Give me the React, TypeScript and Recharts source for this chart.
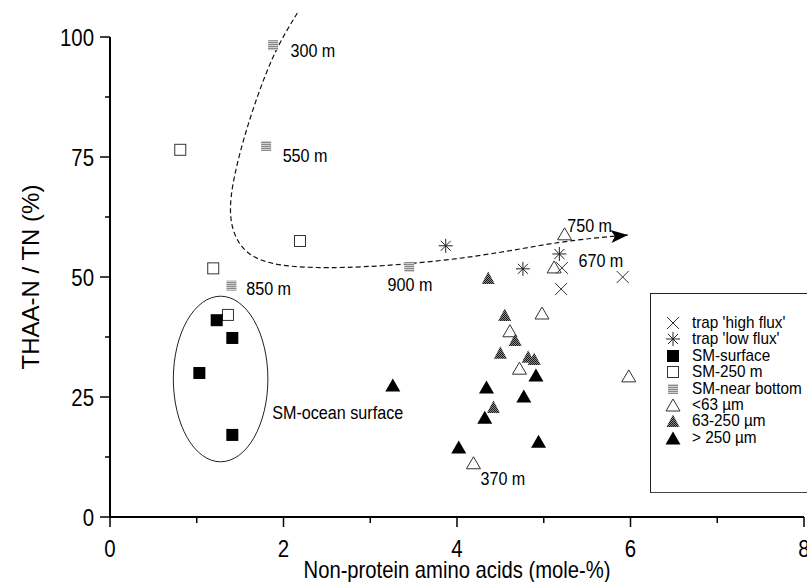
import React from 'react';
import { ScatterChart, Scatter, XAxis, YAxis, ReferenceLine, ReferenceArea } from 'recharts';

// axis ticks (odd entries are the unlabelled minor ticks)
const xTicks = [0, 1, 2, 3, 4, 5, 6, 7, 8];
const yTicks = [0, 12.5, 25, 37.5, 50, 62.5, 75, 87.5, 100];

// sediment trap samples
const trapHighFlux = [
  { x: 5.21, y: 51.9 },
  { x: 5.2, y: 47.5 },
  { x: 5.91, y: 50.0 },
];
const trapLowFlux = [
  { x: 3.87, y: 56.5 },
  { x: 4.76, y: 51.7 },
  { x: 5.18, y: 54.8 },
];

// suspended matter
const smSurface = [
  { x: 1.23, y: 41.0 },
  { x: 1.41, y: 37.3 },
  { x: 1.03, y: 30.0 },
  { x: 1.41, y: 17.1 },
];
const sm250 = [
  { x: 0.81, y: 76.5 },
  { x: 2.19, y: 57.5 },
  { x: 1.19, y: 51.8 },
  { x: 1.36, y: 42.1 },
];
const smNearBottom = [
  { x: 1.88, y: 98.3 },
  { x: 1.8, y: 77.3 },
  { x: 1.4, y: 48.2 },
  { x: 3.45, y: 52.1 },
];

// size fractions
const fine = [
  { x: 5.24, y: 59.0 },
  { x: 5.12, y: 52.1 },
  { x: 4.98, y: 42.5 },
  { x: 4.61, y: 38.8 },
  { x: 4.72, y: 31.0 },
  { x: 5.98, y: 29.4 },
  { x: 4.19, y: 11.3 },
];
const medium = [
  { x: 4.36, y: 49.8 },
  { x: 4.55, y: 42.1 },
  { x: 4.67, y: 36.9 },
  { x: 4.5, y: 34.2 },
  { x: 4.82, y: 33.4 },
  { x: 4.89, y: 32.9 },
  { x: 4.42, y: 22.9 },
];
const coarse = [
  { x: 3.26, y: 27.5 },
  { x: 4.34, y: 27.1 },
  { x: 4.91, y: 29.6 },
  { x: 4.77, y: 25.2 },
  { x: 4.32, y: 20.8 },
  { x: 4.02, y: 14.6 },
  { x: 4.94, y: 15.8 },
];

// dashed trend arrow (down the water column, then towards the traps)
const trendPath = [
  { x: 2.16, y: 105 },
  { x: 1.9, y: 97.3 },
  { x: 1.68, y: 86.9 },
  { x: 1.5, y: 76.5 },
  { x: 1.37, y: 66.0 },
  { x: 1.4, y: 59.5 },
  { x: 1.56, y: 54.8 },
  { x: 1.85, y: 52.6 },
  { x: 2.3, y: 51.8 },
  { x: 3.12, y: 52.1 },
  { x: 4.27, y: 54.2 },
  { x: 5.19, y: 57.5 },
  { x: 5.97, y: 58.75, head: true },
];

// depth annotations
const depthLabels = [
  { x: 2.08, y: 97.3, text: '300 m' },
  { x: 1.99, y: 75.4, text: '550 m' },
  { x: 1.57, y: 47.7, text: '850 m' },
  { x: 3.2, y: 48.5, text: '900 m' },
  { x: 5.27, y: 60.8, text: '750 m' },
  { x: 5.4, y: 53.5, text: '670 m' },
  { x: 4.27, y: 8.1, text: '370 m' },
  { x: 1.87, y: 21.9, text: 'SM-ocean surface' },
];

// outline around the surface samples
const surfaceGroup = { x1: 0.73, x2: 1.82, y1: 11.5, y2: 46.0 };

const SANS = "'Liberation Sans', Arial, Helvetica, sans-serif";

// horizontally condensed svg text
const Condensed = ({ x, y, size, sx, anchor = 'start', children }: any) => (
  <text
    transform={`translate(${x},${y}) scale(${sx},1)`}
    textAnchor={anchor}
    fontFamily={SANS}
    fontSize={size}
    fill="#000"
  >
    {children}
  </text>
);

const drawCross = (cx: number, cy: number) => (
  <path
    d={`M${cx - 6},${cy - 6}L${cx + 6},${cy + 6}M${cx - 6},${cy + 6}L${cx + 6},${cy - 6}`}
    stroke="#333"
    strokeWidth={1}
    fill="none"
  />
);
const drawStar = (cx: number, cy: number) => (
  <path
    d={`M${cx},${cy - 7}L${cx},${cy + 7}M${cx - 7},${cy}L${cx + 7},${cy}M${cx - 5},${cy - 5}L${cx + 5},${cy + 5}M${cx - 5},${cy + 5}L${cx + 5},${cy - 5}`}
    stroke="#222"
    strokeWidth={1}
    fill="none"
  />
);
const drawFilledSquare = (cx: number, cy: number) => (
  <rect x={cx - 6} y={cy - 6} width={12} height={12} fill="#000" />
);
const drawOpenSquare = (cx: number, cy: number) => (
  <rect x={cx - 5.5} y={cy - 5.5} width={11} height={11} fill="#fff" stroke="#333" strokeWidth={1} />
);
const drawGreySquare = (cx: number, cy: number) => (
  <rect x={cx - 5} y={cy - 5} width={10} height={10} fill="url(#nearBottomFill)" />
);
const drawOpenTriangle = (cx: number, cy: number) => (
  <path d={`M${cx - 7},${cy + 6}L${cx},${cy - 6}L${cx + 7},${cy + 6}Z`} fill="none" stroke="#333" strokeWidth={1} />
);
const drawGreyTriangle = (cx: number, cy: number) => (
  <path d={`M${cx - 6.5},${cy + 6}L${cx},${cy - 6.5}L${cx + 6.5},${cy + 6}Z`} fill="url(#midFill)" />
);
const drawFilledTriangle = (cx: number, cy: number) => (
  <path d={`M${cx - 7.5},${cy + 6.5}L${cx},${cy - 6.5}L${cx + 7.5},${cy + 6.5}Z`} fill="#000" />
);

const legendItems = [
  { label: "trap 'high flux'", draw: drawCross },
  { label: "trap 'low flux'", draw: drawStar },
  { label: 'SM-surface', draw: drawFilledSquare },
  { label: 'SM-250 m', draw: drawOpenSquare },
  { label: 'SM-near bottom', draw: drawGreySquare },
  { label: '<63 µm', draw: drawOpenTriangle },
  { label: '63-250 µm', draw: drawGreyTriangle },
  { label: '> 250 µm', draw: drawFilledTriangle },
];

const XTick = (props: any) => {
  const { x, y, payload } = props;
  const major = payload.value % 2 === 0;
  return (
    <g>
      <line x1={x} y1={y} x2={x} y2={y + (major ? 10 : 6)} stroke="#000" strokeWidth={1.5} />
      {major && (
        <Condensed x={x} y={y + 40} size={24} sx={0.85} anchor="middle">
          {payload.value}
        </Condensed>
      )}
    </g>
  );
};

const YTick = (props: any) => {
  const { x, y, payload } = props;
  const major = payload.value % 25 === 0;
  return (
    <g>
      <line x1={x} y1={y} x2={x - (major ? 10 : 5)} y2={y} stroke="#000" strokeWidth={1.5} />
      {major && (
        <Condensed x={x - 16} y={y + 8.5} size={24} sx={0.85} anchor="end">
          {payload.value}
        </Condensed>
      )}
    </g>
  );
};

const TrendPoint = (props: any) => {
  const { cx, cy, payload } = props;
  if (!payload.head) return <g />;
  return (
    <path
      d="M0,0L-17,-6.5L-13,0L-17,6.5Z"
      fill="#000"
      transform={`translate(${cx},${cy}) rotate(-5)`}
    />
  );
};

const DepthLabel = (props: any) => {
  const { cx, cy, payload } = props;
  return (
    <Condensed x={cx} y={cy + 7} size={19} sx={0.85}>
      {payload.text}
    </Condensed>
  );
};

const GroupOutline = (props: any) => {
  const { x, y, width, height } = props;
  return (
    <ellipse
      cx={x + width / 2}
      cy={y + height / 2}
      rx={width / 2}
      ry={height / 2}
      fill="none"
      stroke="#222"
      strokeWidth={1}
    />
  );
};

const Legend = () => (
  <div
    style={{
      position: 'absolute',
      left: 650,
      top: 293,
      width: 180,
      height: 198,
      borderTop: '1.5px solid #222',
      borderLeft: '1.5px solid #222',
      borderBottom: '1.5px solid #444',
      background: '#fff',
    }}
  >
    {legendItems.map((item, i) => (
      <div key={item.label} style={{ position: 'absolute', left: 0, top: 21 + i * 16.4, height: 16 }}>
        <svg width={22} height={16} style={{ position: 'absolute', left: 11, top: 0 }}>
          {item.draw(11, 8)}
        </svg>
        <span
          style={{
            position: 'absolute',
            left: 41,
            top: 0,
            lineHeight: '16px',
            fontFamily: SANS,
            fontSize: 17,
            whiteSpace: 'nowrap',
            color: '#000',
            transform: 'scaleX(0.9)',
            transformOrigin: 'left center',
          }}
        >
          {item.label}
        </span>
      </div>
    ))}
  </div>
);

export default function App() {
  return (
    <div
      style={{
        position: 'absolute',
        left: 0,
        top: 0,
        width: 807,
        height: 582,
        overflow: 'hidden',
        background: '#fff',
      }}
    >
      <svg width={0} height={0} style={{ position: 'absolute' }}>
        <defs>
          <pattern id="nearBottomFill" width={2} height={2} patternUnits="userSpaceOnUse">
            <rect width={2} height={2} fill="#cfcfcf" />
            <rect width={2} height={1} fill="#8a8a8a" />
          </pattern>
          <pattern id="midFill" width={2} height={2} patternUnits="userSpaceOnUse">
            <rect width={2} height={2} fill="#8a8a8a" />
            <rect width={1} height={1} fill="#1a1a1a" />
            <rect x={1} y={1} width={1} height={1} fill="#1a1a1a" />
          </pattern>
        </defs>
      </svg>
      <ScatterChart width={807} height={582} margin={{ top: 13, right: 3, bottom: 0, left: 0 }}>
        <XAxis
          type="number"
          dataKey="x"
          domain={[0, 8]}
          ticks={xTicks}
          interval={0}
          tickLine={false}
          tickSize={0}
          tickMargin={0}
          tick={XTick}
          height={65}
          axisLine={{ stroke: '#000', strokeWidth: 2 }}
          label={{
            content: (p: any) => (
              <Condensed
                x={p.viewBox.x + p.viewBox.width / 2}
                y={p.viewBox.y + 61}
                size={23}
                sx={0.88}
                anchor="middle"
              >
                Non-protein amino acids (mole-%)
              </Condensed>
            ),
          }}
        />
        <YAxis
          type="number"
          dataKey="y"
          domain={[0, 105]}
          ticks={yTicks}
          interval={0}
          axisLine={false}
          tickLine={false}
          tickSize={0}
          tickMargin={0}
          tick={YTick}
          width={110}
          label={{
            content: (p: any) => {
              const cx = p.viewBox.x + 30;
              const cy = p.viewBox.y + p.viewBox.height / 2 + 12;
              return (
                <text
                  x={cx}
                  y={cy}
                  textAnchor="middle"
                  dominantBaseline="central"
                  transform={`rotate(-90, ${cx}, ${cy})`}
                  fontFamily={SANS}
                  fontSize={24}
                  fill="#000"
                >
                  THAA-N / TN (%)
                </text>
              );
            },
          }}
        />
        <ReferenceLine
          segment={[
            { x: 0, y: 0 },
            { x: 0, y: 100 },
          ]}
          stroke="#000"
          strokeWidth={2}
          ifOverflow="visible"
        />
        <ReferenceArea {...surfaceGroup} shape={GroupOutline} ifOverflow="visible" />
        <Scatter
          data={trendPath}
          line={{ stroke: '#111', strokeWidth: 1.2, strokeDasharray: '5 3', fill: 'none' }}
          lineJointType="basis"
          shape={TrendPoint}
          isAnimationActive={false}
        />
        <Scatter data={sm250} shape={(p: any) => drawOpenSquare(p.cx, p.cy)} isAnimationActive={false} />
        <Scatter data={smSurface} shape={(p: any) => drawFilledSquare(p.cx, p.cy)} isAnimationActive={false} />
        <Scatter data={smNearBottom} shape={(p: any) => drawGreySquare(p.cx, p.cy)} isAnimationActive={false} />
        <Scatter data={fine} shape={(p: any) => drawOpenTriangle(p.cx, p.cy)} isAnimationActive={false} />
        <Scatter data={medium} shape={(p: any) => drawGreyTriangle(p.cx, p.cy)} isAnimationActive={false} />
        <Scatter data={coarse} shape={(p: any) => drawFilledTriangle(p.cx, p.cy)} isAnimationActive={false} />
        <Scatter data={trapLowFlux} shape={(p: any) => drawStar(p.cx, p.cy)} isAnimationActive={false} />
        <Scatter data={trapHighFlux} shape={(p: any) => drawCross(p.cx, p.cy)} isAnimationActive={false} />
        <Scatter data={depthLabels} shape={DepthLabel} isAnimationActive={false} />
      </ScatterChart>
      <Legend />
    </div>
  );
}
